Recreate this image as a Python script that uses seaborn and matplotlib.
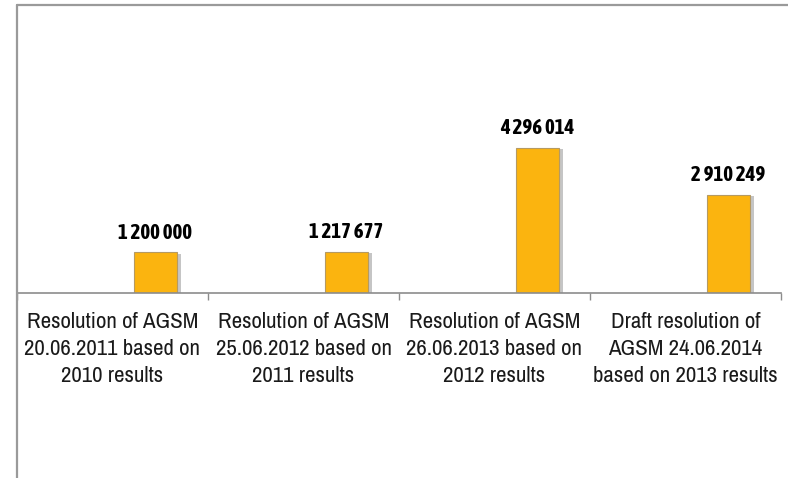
import matplotlib
matplotlib.use("Agg")
import matplotlib.pyplot as plt
import matplotlib.patheffects as pe
from matplotlib.lines import Line2D
import seaborn as sns
import pandas as pd

categories = [
    "Resolution of AGSM\n20.06.2011 based on\n2010 results",
    "Resolution of AGSM\n25.06.2012 based on\n2011 results",
    "Resolution of AGSM\n26.06.2013 based on\n2012 results",
    "Draft resolution of\nAGSM 24.06.2014\nbased on 2013 results",
]
values = [1200000, 1217677, 4296014, 2910249]
value_labels = ["1 200 000", "1 217 677", "4 296 014", "2 910 249"]

sns.set_theme(style="white")
plt.rcParams["font.family"] = ["Archivo Narrow", "Liberation Sans", "DejaVu Sans"]

df = pd.DataFrame({"category": categories, "value": values, "series": ["s3"] * 4})

fig = plt.figure(figsize=(7.88, 4.78), dpi=100)
W, H = 788, 478
ax = fig.add_axes([17 / W, (H - 293) / H, (781 - 17) / W, (293 - 5) / H])

sns.barplot(data=df, x="category", y="value", hue="series",
            hue_order=["s1", "s2", "s3"], palette={"s1": "#FBB40F", "s2": "#FBB40F", "s3": "#FBB40F"},
            width=0.675, dodge=True, order=categories, ax=ax, legend=False,
            edgecolor="#b59a62", linewidth=0.8, saturation=1)

for p in ax.patches:
    p.set_path_effects([pe.SimplePatchShadow(offset=(3, -1), shadow_rgbFace="#808080", alpha=0.45),
                        pe.Normal()])

ax.set_xlim(-0.5, 3.5)
ax.set_ylim(0, 8.53e6)
ax.set_xlabel("")
ax.set_ylabel("")
ax.set_yticks([])

# value labels above bars
bars = [p for p in ax.patches if p.get_height() > 0]
bars.sort(key=lambda p: p.get_x())
for p, lab in zip(bars, value_labels):
    ax.annotate(lab, (p.get_x() + p.get_width() / 2, p.get_height()),
                xytext=(0, 7), textcoords="offset points", ha="center", va="bottom",
                fontsize=15, fontweight="bold", color="#000000",
                family=["Asap Condensed", "Saira SemiCondensed", "Archivo Narrow"])

ax.set_xticks(range(len(categories)))
ax.set_xticklabels(categories, fontsize=16.5, color="#1a1a1a", linespacing=1.42)
ax.tick_params(axis="x", which="major", length=0, pad=14)
ax.set_xticks([-0.5, 0.5, 1.5, 2.5, 3.5], minor=True)
ax.tick_params(axis="x", which="minor", length=5, width=1, color="#8c8c8c", bottom=True, direction="out")

for s in ["top", "left", "right"]:
    ax.spines[s].set_visible(False)
ax.spines["bottom"].set_color("#8c8c8c")
ax.spines["bottom"].set_linewidth(1.2)

# outer frame (left and top)
fig.add_artist(Line2D([16.5 / W, 16.5 / W], [0, (H - 5) / H], transform=fig.transFigure,
                      color="#9a9a9a", linewidth=1.6))
fig.add_artist(Line2D([16.5 / W, 1.0], [(H - 5) / H, (H - 5) / H], transform=fig.transFigure,
                      color="#9a9a9a", linewidth=1.6))

fig.savefig("out.png", dpi=100, facecolor="white")
